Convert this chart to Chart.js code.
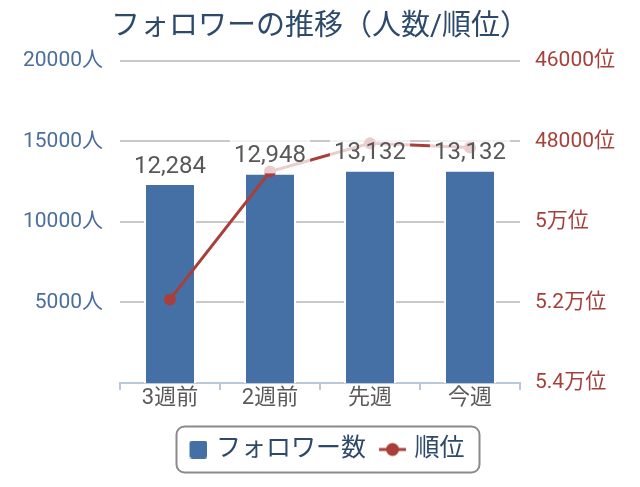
<!DOCTYPE html>
<html>
<head>
<meta charset="utf-8">
<script src="https://cdn.jsdelivr.net/npm/chart.js@4/dist/chart.umd.min.js"></script>
<style>
	html, body { margin: 0; padding: 0; background: #fff; }
	#wrap { width: 640px; height: 487px; position: relative; }
</style>
</head>
<body>
<div id="wrap"><canvas id="chart"></canvas></div>
<script>
// chart data
const weeks = ['3週前', '2週前', '先週', '今週'];
const followers = [12284, 12948, 13132, 13132];
const ranks = [51925, 48750, 48050, 48150];
const followerTicks = [0, 5000, 10000, 15000, 20000];
const rankTicks = [46000, 48000, 50000, 52000, 54000];

const BAR_COLOR = '#4570a6';
const LINE_COLOR = '#a83f3a';
const NAVY = '#2d4a6b';

Chart.defaults.font.family = "Roboto, 'Noto Sans CJK JP', sans-serif";

// legend markers as small canvases (square for bars, line with dot for rank)
// the canvas is wider than the legend box so the gap to the text stays small
const makeMarker = (kind) => {
	const c = document.createElement('canvas');
	c.width = 36;
	c.height = 18;
	const ctx = c.getContext('2d');
	if (kind === 'bar') {
		ctx.fillStyle = BAR_COLOR;
		ctx.beginPath();
		ctx.roundRect(18, 0, 18, 18, 3);
		ctx.fill();
	} else {
		ctx.strokeStyle = LINE_COLOR;
		ctx.fillStyle = LINE_COLOR;
		ctx.lineWidth = 3;
		ctx.beginPath();
		ctx.moveTo(9, 9);
		ctx.lineTo(36, 9);
		ctx.stroke();
		ctx.beginPath();
		ctx.arc(22.5, 9, 6.5, 0, Math.PI * 2);
		ctx.fill();
	}
	return c;
};

const rankLabel = (v) => (v >= 50000 ? (v / 10000) + '万位' : v + '位');

// value labels above the bars, on a half-white box that fades the line below
const barLabels = {
	id: 'barLabels',
	afterDatasetsDraw(chart) {
		const ctx = chart.ctx;
		const meta = chart.getDatasetMeta(0);
		ctx.save();
		ctx.font = "24px Roboto, 'Noto Sans CJK JP', sans-serif";
		ctx.textAlign = 'center';
		ctx.textBaseline = 'middle';
		meta.data.forEach((bar, i) => {
			const txt = followers[i].toLocaleString('en-US');
			const w = ctx.measureText(txt).width;
			ctx.fillStyle = 'rgba(255,255,255,0.75)';
			ctx.fillRect(bar.x - w / 2 - 4, bar.y - 37, w + 8, 36);
			ctx.fillStyle = '#585858';
			ctx.fillText(txt, bar.x, bar.y - 18);
		});
		ctx.restore();
	},
};

// rounded frame round the legend
const legendFrame = {
	id: 'legendFrame',
	afterDraw(chart) {
		const boxes = chart.legend.legendHitBoxes;
		if (!boxes || !boxes.length) return;
		const left = Math.min(...boxes.map((b) => b.left)) + 1;
		const right = Math.max(...boxes.map((b) => b.left + b.width)) + 15;
		const mid = boxes[0].top + boxes[0].height / 2;
		const ctx = chart.ctx;
		ctx.save();
		ctx.strokeStyle = '#8a8a8a';
		ctx.lineWidth = 2;
		ctx.beginPath();
		ctx.roundRect(left, mid - 23, right - left, 46, 8);
		ctx.stroke();
		ctx.restore();
	},
};

const markers = { bar: makeMarker('bar'), line: makeMarker('line') };

new Chart(document.getElementById('chart'), {
	type: 'bar',
	data: {
		labels: weeks,
		datasets: [
			{
				type: 'bar',
				label: 'フォロワー数',
				data: followers,
				backgroundColor: BAR_COLOR,
				borderColor: '#ffffff',
				borderWidth: { left: 2, right: 2, top: 0, bottom: 0 },
				borderSkipped: false,
				barPercentage: 0.52,
				categoryPercentage: 1,
				yAxisID: 'y',
				order: 2,
			},
			{
				type: 'line',
				label: '順位',
				data: ranks,
				borderColor: LINE_COLOR,
				backgroundColor: LINE_COLOR,
				borderWidth: 3,
				pointRadius: 6,
				pointBorderWidth: 0,
				tension: 0,
				yAxisID: 'y1',
				order: 1,
			},
		],
	},
	options: {
		responsive: true,
		maintainAspectRatio: false,
		animation: false,
		layout: { padding: { top: 10, bottom: 15, left: 0, right: 0 } },
		plugins: {
			title: {
				display: true,
				text: 'フォロワーの推移（人数/順位）',
				color: NAVY,
				font: { size: 29, weight: 'normal' },
				padding: { top: 0, bottom: 16 },
			},
			legend: {
				position: 'bottom',
				labels: {
					usePointStyle: true,
					pointStyleWidth: 28,
					color: NAVY,
					font: { size: 25 },
					padding: 8,
					generateLabels: () => [
						{ text: 'フォロワー数', pointStyle: markers.bar, fontColor: NAVY, datasetIndex: 0, lineWidth: 0, strokeStyle: 'transparent', fillStyle: BAR_COLOR },
						{ text: '順位', pointStyle: markers.line, fontColor: NAVY, datasetIndex: 1, lineWidth: 0, strokeStyle: 'transparent', fillStyle: LINE_COLOR },
					],
				},
			},
			tooltip: { enabled: false },
		},
		scales: {
			x: {
				offset: true,
				afterFit: (axis) => { axis.height = 46; },
				grid: {
					display: true,
					drawOnChartArea: false,
					drawTicks: true,
					tickLength: 7,
					color: '#b9c9d9',
					lineWidth: 2,
					offset: true,
				},
				border: { color: '#b9c9d9', width: 2 },
				ticks: { color: '#5a5a5a', font: { size: 22 }, padding: -5 },
			},
			y: {
				position: 'left',
				min: followerTicks[0],
				max: followerTicks[followerTicks.length - 1],
				afterBuildTicks: (axis) => { axis.ticks = followerTicks.map((v) => ({ value: v })); },
				afterFit: (axis) => { axis.width = 120; },
				grid: { color: '#c9c9c9', lineWidth: 2, drawTicks: false },
				border: { display: false },
				ticks: {
					color: '#4a6f9e',
					font: { size: 21 },
					padding: 17,
					callback: (v) => (v === 0 ? null : v + '人'),
				},
			},
			y1: {
				position: 'right',
				reverse: true,
				min: rankTicks[0],
				max: rankTicks[rankTicks.length - 1],
				afterBuildTicks: (axis) => { axis.ticks = rankTicks.map((v) => ({ value: v })); },
				afterFit: (axis) => { axis.width = 120; },
				grid: { display: false, drawTicks: false },
				border: { display: false },
				ticks: {
					color: '#a5413a',
					font: { size: 21 },
					padding: 15,
					callback: (v) => rankLabel(v),
				},
			},
		},
	},
	plugins: [barLabels, legendFrame],
});
</script>
</body>
</html>
